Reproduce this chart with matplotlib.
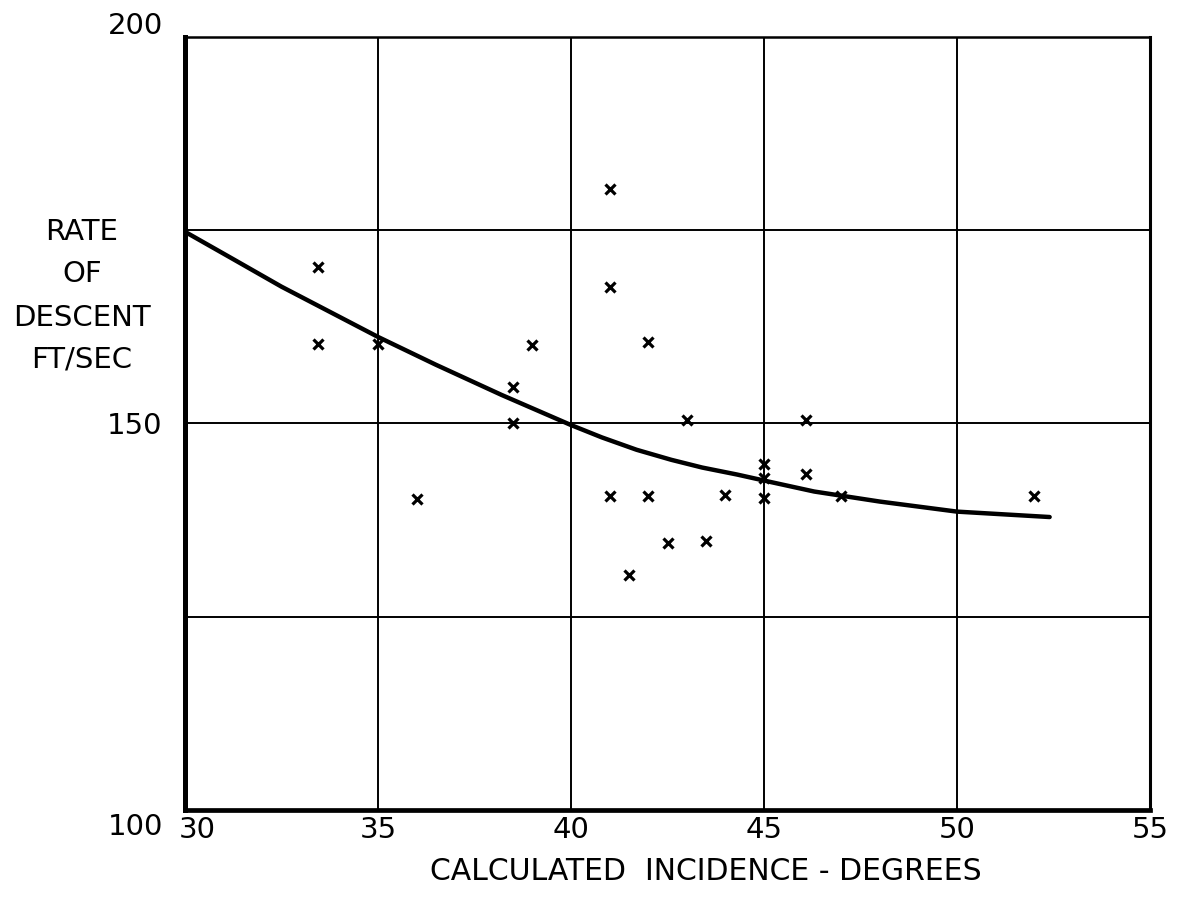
import matplotlib
matplotlib.use('Agg')
import matplotlib.pyplot as plt
import matplotlib.transforms as mtransforms

# Data
point_x = [33.45, 33.45, 35.0, 36.0, 38.5, 38.5, 39.0, 41.0, 41.0, 42.0, 43.0,
           41.0, 42.0, 41.5, 42.5, 43.5, 44.0, 45.0, 45.0, 45.0, 46.1, 46.1, 47.0, 52.0]
point_y = [170.2, 160.3, 160.3, 140.2, 154.7, 150.1, 160.2, 180.4, 167.6, 160.6, 150.4,
           140.6, 140.6, 130.4, 134.6, 134.8, 140.7, 140.4, 144.8, 142.9, 143.5, 150.5, 140.6, 140.6]

curve_x = [30, 31.2, 32.5, 35, 36.5, 38.2, 40, 40.8, 41.7, 42.6, 43.4, 44.3, 45.2, 46.3, 48, 50, 52.4]
curve_y = [174.8, 171.4, 167.7, 161.2, 157.6, 153.7, 149.8, 148.2, 146.6, 145.3, 144.3, 143.4,
           142.4, 141.2, 139.9, 138.6, 137.9]

x_ticks = [30, 35, 40, 45, 50, 55]
x_tick_labels = ['30', '35', '40', '45', '50', '55']
y_ticks = [100, 125, 150, 175, 200]
y_tick_labels = ['100', '', '150', '', '200']

x_label = 'CALCULATED  INCIDENCE - DEGREES'
y_label_lines = ['RATE', 'OF', 'DESCENT', 'FT/SEC']

fig = plt.figure(figsize=(11.79, 8.98), dpi=100)
ax = fig.add_axes([185 / 1179, 1 - 810 / 898, (1150 - 185) / 1179, (810 - 37) / 898])
ax.set_xlim(30, 55)
ax.set_ylim(100, 200)

ax.grid(True, color='black', lw=1.4)
ax.set_axisbelow(True)

ax.plot(curve_x, curve_y, color='black', lw=3.2, solid_capstyle='round',
        solid_joinstyle='round', zorder=3)
ax.plot(point_x, point_y, ls='none', marker='x', color='black', ms=7.5, mew=2.3, zorder=4)

ax.set_xticks(x_ticks)
ax.set_xticklabels(x_tick_labels, fontsize=21)
ax.set_yticks(y_ticks)
ax.set_yticklabels(y_tick_labels, fontsize=21)
ax.tick_params(axis='both', length=0)
ax.tick_params(axis='x', pad=4)
ax.tick_params(axis='y', pad=16)

# individual label offsets as in the reference
def shift(lbl, dx_px, dy_px):
    lbl.set_transform(lbl.get_transform() +
                      mtransforms.ScaledTranslation(dx_px / 100, dy_px / 100, fig.dpi_scale_trans))

ylabels = ax.get_yticklabels()
shift(ylabels[0], 0, -14)
shift(ylabels[4], 0, 14)
xlabels = ax.get_xticklabels()
shift(xlabels[0], 12, 0)

for side, lw in [('left', 3.6), ('bottom', 3.4), ('top', 1.8), ('right', 2.2)]:
    ax.spines[side].set_linewidth(lw)
    ax.spines[side].set_color('black')

fig.text(706 / 1179, 1 - 871 / 898, x_label, ha='center', va='center', fontsize=21.5)

line_y = [232, 274, 318, 360]
for txt, yp in zip(y_label_lines, line_y):
    fig.text(82 / 1179, 1 - yp / 898, txt, ha='center', va='center', fontsize=21)

fig.savefig('out.png', dpi=100, facecolor='white')
